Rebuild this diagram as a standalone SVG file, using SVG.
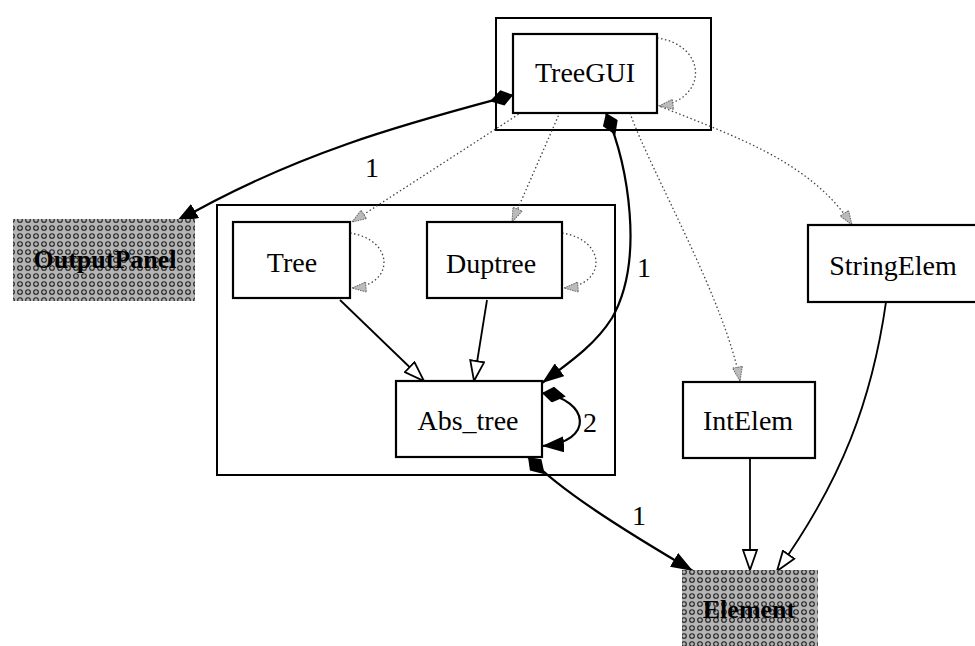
<svg xmlns="http://www.w3.org/2000/svg" width="975" height="646" viewBox="0 0 975 646">
<style>
.node{fill:#fff;stroke:#000;stroke-width:2.2}
.shade{fill:url(#dots);stroke:none}
.cluster{fill:none;stroke:#000;stroke-width:2}
text{font-family:'Liberation Serif','Times New Roman','DejaVu Serif',serif;font-size:28px;fill:#000;text-anchor:middle}
.b{font-weight:bold;font-size:26px}
.solid{fill:none;stroke:#000;stroke-width:2.2}
.thin{fill:none;stroke:#000;stroke-width:1.8}
.dep{fill:none;stroke:#444;stroke-width:1.3;stroke-dasharray:1.5 2.5}
</style>
<defs>
<pattern id="dots" width="8" height="8" patternUnits="userSpaceOnUse">
<rect width="8" height="8" fill="#b4b4b4"/>
<circle cx="4" cy="4" r="2.3" fill="none" stroke="#222" stroke-width="1.1"/>
</pattern>
<marker id="dia" markerUnits="userSpaceOnUse" viewBox="0 0 24 16" refX="0" refY="8" markerWidth="24" markerHeight="16" orient="auto"><path d="M0,8 L11,0 L24,8 L11,16 Z" fill="#000"/></marker>
<marker id="arr" markerUnits="userSpaceOnUse" viewBox="0 0 22 16" refX="22" refY="8" markerWidth="22" markerHeight="16" orient="auto"><path d="M0,0 L22,8 L0,16 Z" fill="#000"/></marker>
<marker id="tri" markerUnits="userSpaceOnUse" viewBox="-1 -1 22 16" refX="20" refY="7" markerWidth="22" markerHeight="16" orient="auto"><path d="M0,0 L20,7 L0,14 Z" fill="#fff" stroke="#000" stroke-width="1.8"/></marker>
<marker id="garr" markerUnits="userSpaceOnUse" viewBox="-1 -1 16 12" refX="14" refY="5" markerWidth="16" markerHeight="12" orient="auto"><path d="M0,0 L14,5 L0,10 Z" fill="#bbb" stroke="#666" stroke-width="1" stroke-dasharray="1.5 1"/></marker>
</defs>
<rect width="975" height="646" fill="#fff"/>
<g id="clusters">
<rect class="cluster" x="496" y="18" width="215" height="112"/>
<rect class="cluster" x="217" y="205" width="398" height="270"/>
</g>
<g id="connectors">
<path class="dep" d="M522,112 L352,222" marker-end="url(#garr)"/>
<path class="dep" d="M560,112 L512,222" marker-end="url(#garr)"/>
<path class="dep" d="M630,113 C650,170 725,300 740,381" marker-end="url(#garr)"/>
<path class="dep" d="M657,105 C730,135 810,160 852,225" marker-end="url(#garr)"/>
<path class="dep" d="M657,38 C708,45 708,100 659,106" marker-end="url(#garr)"/>
<path class="dep" d="M350,233 C395,240 395,285 352,288" marker-end="url(#garr)"/>
<path class="dep" d="M562,233 C607,240 607,285 564,288" marker-end="url(#garr)"/>
<path class="solid" d="M513,95 C420,120 300,150 176,222" marker-start="url(#dia)" marker-end="url(#arr)"/>
<path class="solid" d="M606,113 C628,165 645,260 612,318 C595,345 570,362 542,383" marker-start="url(#dia)" marker-end="url(#arr)"/>
<path class="solid" d="M542,393 C590,400 595,442 542,446" marker-start="url(#dia)" marker-end="url(#arr)"/>
<path class="solid" d="M528,457 C560,490 620,528 693,571" marker-start="url(#dia)" marker-end="url(#arr)"/>
<path class="thin" d="M340,300 L424,381" marker-end="url(#tri)"/>
<path class="thin" d="M487,300 L474,381" marker-end="url(#tri)"/>
<path class="thin" d="M750,458 L750,570" marker-end="url(#tri)"/>
<path class="thin" d="M886,302 C872,400 842,480 777,571" marker-end="url(#tri)"/>
<text x="372" y="177">1</text>
<text x="644" y="277">1</text>
<text x="590" y="432">2</text>
<text x="639" y="525">1</text>
</g>
<g id="TreeGUI"><rect class="node" x="513" y="34" width="144" height="79"/><text x="585" y="82">TreeGUI</text></g>
<g id="OutputPanel"><rect class="shade" x="13" y="219" width="182" height="82"/><text class="b" x="105" y="268">OutputPanel</text></g>
<g id="Tree"><rect class="node" x="233" y="222" width="117" height="76"/><text x="292" y="272">Tree</text></g>
<g id="Duptree"><rect class="node" x="427" y="222" width="135" height="76"/><text x="491" y="273">Duptree</text></g>
<g id="Abs_tree"><rect class="node" x="396" y="381" width="146" height="76"/><text x="468" y="430">Abs_tree</text></g>
<g id="StringElem"><rect class="node" x="808" y="225" width="170" height="77"/><text x="893" y="275">StringElem</text></g>
<g id="IntElem"><rect class="node" x="683" y="382" width="132" height="76"/><text x="748" y="430">IntElem</text></g>
<g id="Element"><rect class="shade" x="682" y="570" width="136" height="80"/><text class="b" x="749" y="618">Element</text></g>
</svg>
